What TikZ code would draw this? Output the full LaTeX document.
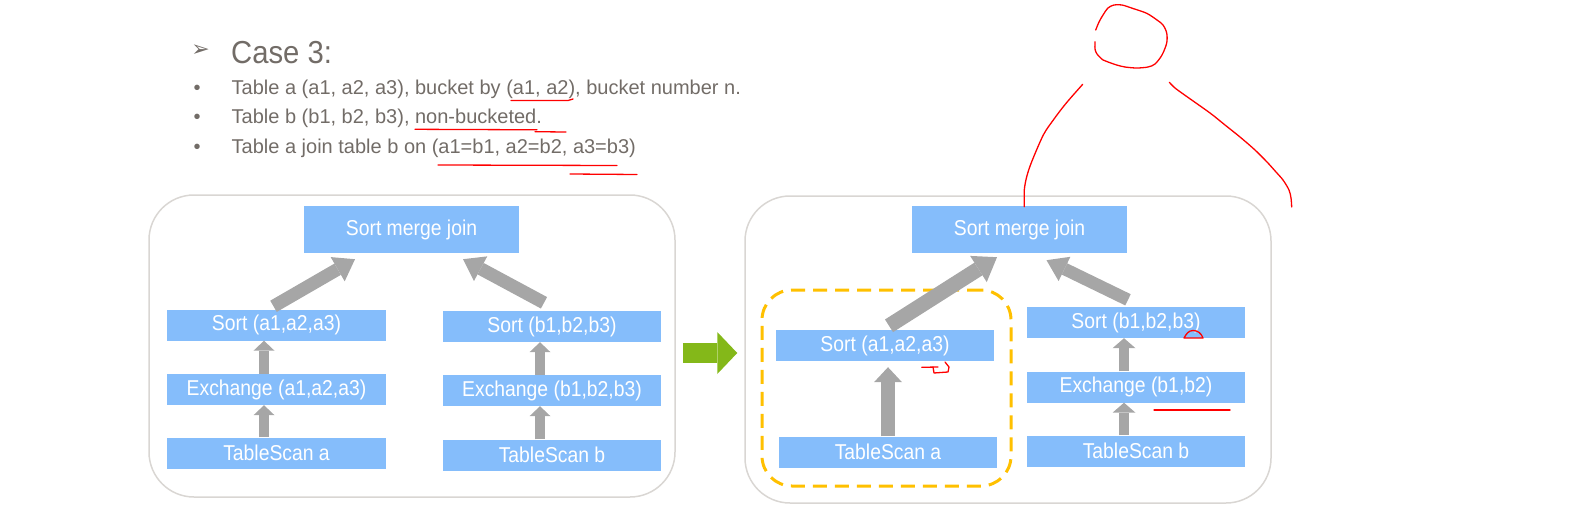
\documentclass[tikz,border=0pt]{standalone}
\usepackage{fontspec}
\setmainfont{Liberation Sans}
\newfontfamily\symfont{DejaVu Sans}
\newfontfamily\narrowfont[FakeStretch=0.9]{Liberation Sans}
\newfontfamily\titlefont[FakeStretch=0.92]{Liberation Sans}
\usetikzlibrary{arrows.meta}
\definecolor{txtgray}{HTML}{726C67}
\definecolor{boxblue}{HTML}{85BDFB}
\definecolor{arrgray}{HTML}{A6A6A6}
\definecolor{panelgray}{HTML}{D9D6D3}
\definecolor{dashorange}{HTML}{FFC000}
\definecolor{arrgreen}{HTML}{84B819}
\definecolor{inkred}{HTML}{FF0000}
\begin{document}
\begin{tikzpicture}[x=1pt,y=-1pt,
 box/.style={fill=boxblue, text=white, inner sep=0pt, minimum width=218pt, minimum height=31pt, font=\narrowfont\fontsize{21.5}{24}\selectfont},
 bigbox/.style={box, minimum width=215pt, minimum height=47pt},
 panel/.style={draw=panelgray, line width=1.5pt, rounded corners=45pt, inner sep=0pt},
 fat/.style args={#1/#2/#3}{draw=arrgray, line width=#1, -{Triangle[length=#3,width=#2,line width=0pt]}},
 ink/.style={draw=inkred, line width=1.3pt, line cap=round, line join=round},
 bul/.style={anchor=base west, inner sep=0pt, text=txtgray, font=\fontsize{20}{24}\selectfont},
]
\useasboundingbox (0,0) rectangle (1587,522);

% header text
\node[anchor=center, inner sep=0pt, text=txtgray, font=\symfont\fontsize{22}{24}\selectfont] (tri) at (200.5,51) {➢};
\node[anchor=base west, inner sep=0pt, text=txtgray, font=\titlefont\fontsize{31.8}{36}\selectfont] (title) at (231,63) {Case 3:};
\node[bul] (d1) at (193.5,94) {•};
\node[bul] (t1) at (231.5,94) {Table a (a1, a2, a3), bucket by (a1, a2), bucket number n.};
\node[bul] (d2) at (193.5,123) {•};
\node[bul] (t2) at (231.5,123) {Table b (b1, b2, b3), non-bucketed.};
\node[bul] (d3) at (193.5,153) {•};
\node[bul] (t3) at (231.5,153) {Table a join table b on (a1=b1, a2=b2, a3=b3)};

% panels
\node[panel, minimum width=526pt, minimum height=302pt] (pL) at (412,346) {};
\node[panel, minimum width=526pt, minimum height=307pt] (pR) at (1008,349.5) {};
\node[draw=dashorange, line width=3pt, dash pattern=on 14pt off 8pt, rounded corners=30pt,
      minimum width=249pt, minimum height=196pt, inner sep=0pt] (dz) at (886.5,388) {};

% left plan
\node[bigbox] (smjL) at (411.5,229.5) {Sort merge join};
\node[box, minimum width=219pt] (saL) at (276.5,325) {Sort (a1,a2,a3)};
\node[box, minimum width=219pt] (eaL) at (276.5,389.5) {Exchange (a1,a2,a3)};
\node[box, minimum width=219pt] (taL) at (276.5,453) {TableScan a};
\node[box] (sbL) at (552,326.5) {Sort (b1,b2,b3)};
\node[box] (ebL) at (552,390.5) {Exchange (b1,b2,b3)};
\node[box] (tbL) at (552,455) {TableScan b};

% right plan
\node[bigbox] (smjR) at (1019.5,229.5) {Sort merge join};
\node[box] (saR) at (885,345.5) {Sort (a1,a2,a3)};
\node[box] (taR) at (888,452) {TableScan a};
\node[box] (sbR) at (1136,322.5) {Sort (b1,b2,b3)};
\node[box] (ebR) at (1136,387) {Exchange (b1,b2)};
\node[box] (tbR) at (1136,451) {TableScan b};

% left arrows
\draw[fat=10pt/21pt/10pt] ([xshift=-12.5pt]eaL.north) -- ([xshift=-12.5pt]saL.south);
\draw[fat=10pt/21pt/10pt] ([xshift=-12.5pt]taL.north) -- ([xshift=-12.5pt]eaL.south);
\draw[fat=10pt/21pt/10pt] ([xshift=-12pt]ebL.north) -- ([xshift=-12pt]sbL.south);
\draw[fat=10pt/21pt/10pt] ([xshift=-12pt]tbL.north) -- ([xshift=-12pt]ebL.south);
\draw[fat=13pt/28pt/20pt] ([xshift=-3pt,yshift=3pt]saL.north) -- ([xshift=-56.5pt,yshift=-6pt]smjL.south);
\draw[fat=13pt/28pt/20pt] ([xshift=-8pt,yshift=8pt]sbL.north) -- ([xshift=51.5pt,yshift=-6pt]smjL.south);

% right arrows
\draw[fat=14pt/28pt/15pt] (taR.north) -- ([xshift=3pt,yshift=-6pt]saR.south);
\draw[fat=15pt/31pt/22pt] ([xshift=4pt,yshift=4pt]saR.north) -- ([xshift=-22.5pt,yshift=-4pt]smjR.south);
\draw[fat=12.5pt/27pt/20pt] ([xshift=-8pt,yshift=7pt]sbR.north) -- ([xshift=27pt,yshift=-7pt]smjR.south);
\draw[fat=10.5pt/23pt/10pt] ([xshift=-12pt]ebR.north) -- ([xshift=-12pt]sbR.south);
\draw[fat=10.5pt/23pt/10pt] ([xshift=-12pt]tbR.north) -- ([xshift=-12pt]ebR.south);

% green arrow
\draw[draw=arrgreen, line width=20pt, -{Triangle[length=20pt,width=42pt,line width=0pt]}]
  ([xshift=7pt,yshift=-7pt]pL.east) -- ([xshift=-7pt,yshift=-3.5pt]pR.west);

% red ink
\draw[ink] (511,100.5) -- (568,100.5) -- (573,99);
\draw[ink] (415,129.3) -- (537,129.8);
\draw[ink] (535,131.7) -- (566,132);
\draw[ink] (438,165) -- (617,165.5);
\draw[ink] (570,174) -- (637,174.5);
\draw[ink] plot[smooth] coordinates {(1024.3,206.7) (1024.3,190) (1026.7,176.7) (1031.7,161.7) (1043.3,135) (1053.3,120) (1063.3,106.7) (1071.7,96.7) (1082.7,84.3)};
\draw[ink] plot[smooth] coordinates {(1095.7,30) (1099,22) (1103,15) (1108,8) (1114,5) (1122,5) (1133,8.5) (1146.7,13.3) (1157,20) (1163,25) (1166.7,33) (1166.7,43) (1162,55) (1155,64) (1148,67) (1136.7,68) (1125,67) (1116.7,65) (1108,62) (1103,60) (1097,54) (1095,49) (1095,41.7)};
\draw[ink] plot[smooth] coordinates {(1169.3,82.3) (1175,88) (1186,96) (1210,113) (1225,125) (1240,137) (1255,150) (1267,162) (1276,172) (1283,180) (1289,190) (1291,198) (1291.7,207)};
\draw[ink] (921.7,367.3) -- (938,367);
\draw[ink] (933,367) -- (934,373) -- (948,372) -- (949,367) -- (945,362);
\draw[ink] (1184,338) to[out=60,in=180] (1193,330.5) to[out=0,in=110] (1203,338) -- (1184,338);
\draw[ink] (1154,410) -- (1230,410);
\end{tikzpicture}
\end{document}
